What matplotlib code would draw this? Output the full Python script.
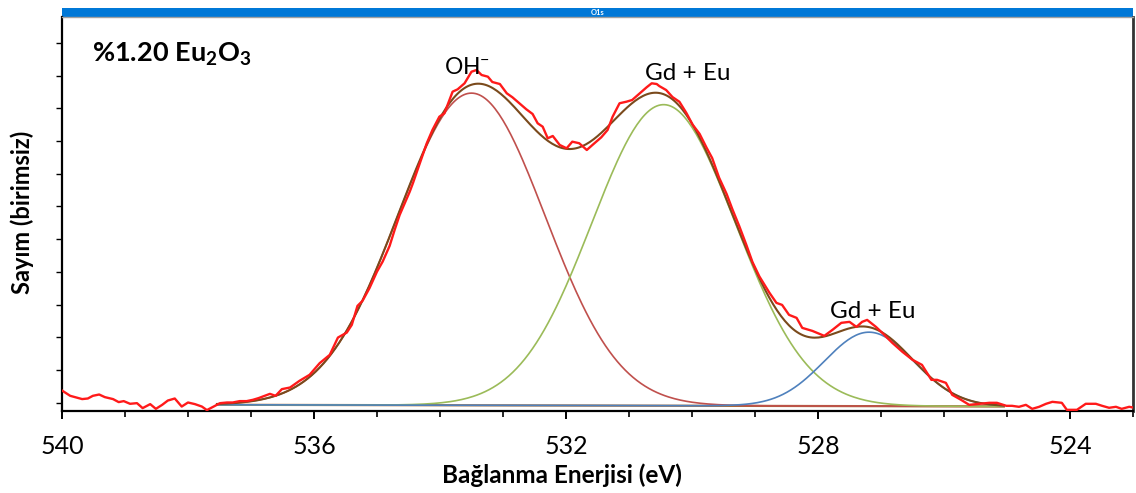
import matplotlib
matplotlib.use("Agg")
import matplotlib.pyplot as plt
from matplotlib.ticker import MultipleLocator, NullFormatter
from matplotlib.patches import Rectangle
import numpy as np

plt.rcParams["font.family"] = ["Lato", "DejaVu Sans"]
plt.rcParams["mathtext.default"] = "regular"

# ── O1s spectrum (binding energy, counts) ────────────────────────────────────
energy = [
    540.00, 539.87, 539.68, 539.59, 539.51, 539.41, 539.32, 539.19, 539.10, 539.02,
    538.92, 538.81, 538.72, 538.60, 538.51, 538.41, 538.32, 538.21, 538.10, 538.00,
    537.89, 537.78, 537.70, 537.61, 537.49, 537.38, 537.29, 537.18, 537.07, 536.97,
    536.88, 536.70, 536.61, 536.51, 536.38, 536.23, 536.07, 535.91, 535.75, 535.62,
    535.48, 535.40, 535.31, 535.23, 535.12, 535.00, 534.91, 534.80, 534.72, 534.64,
    534.56, 534.48, 534.43, 534.32, 534.21, 534.12, 534.01, 533.93, 533.85, 533.80,
    533.72, 533.61, 533.50, 533.42, 533.34, 533.24, 533.17, 533.05, 532.94, 532.85,
    532.74, 532.63, 532.53, 532.45, 532.37, 532.29, 532.21, 532.10, 531.99, 531.90,
    531.79, 531.67, 531.58, 531.44, 531.34, 531.26, 531.15, 531.04, 530.95, 530.83,
    530.72, 530.64, 530.56, 530.52, 530.41, 530.31, 530.20, 530.09, 529.99, 529.88,
    529.77, 529.68, 529.57, 529.45, 529.36, 529.25, 529.14, 529.04, 528.93, 528.77,
    528.66, 528.57, 528.46, 528.34, 528.25, 528.09, 527.90, 527.77, 527.63, 527.50,
    527.39, 527.30, 527.22, 527.08, 526.98, 526.82, 526.66, 526.50, 526.35, 526.20,
    526.11, 525.97, 525.87, 525.73, 525.60, 525.44, 525.28, 525.16, 525.01, 524.92,
    524.81, 524.70, 524.60, 524.49, 524.38, 524.28, 524.13, 524.05, 523.89, 523.75,
    523.59, 523.49, 523.38, 523.27, 523.18, 523.06, 522.98,
]
counts = [
    188, 107, 57, 66, 107, 127, 87, 57, 11, 26,
    -15, -5, -81, -20, -92, -31, 35, 66, -57, 5,
    -20, -57, -111, -66, -5, 5, 5, 26, 26, 46,
    72, 137, 107, 209, 234, 336, 428, 606, 733, 997,
    1073, 1191, 1481, 1558, 1751, 2005, 2158, 2397, 2642, 2871,
    3049, 3227, 3355, 3660, 3966, 4169, 4372, 4424, 4627, 4754,
    4790, 4882, 5059, 5085, 5009, 4983, 4902, 4871, 4729, 4668,
    4577, 4485, 4413, 4271, 4219, 4042, 4077, 3940, 3889, 3990,
    3966, 3863, 3940, 4057, 4169, 4372, 4577, 4601, 4627, 4729,
    4821, 4882, 4871, 4840, 4779, 4672, 4600, 4430, 4250, 4110,
    3900, 3740, 3440, 3190, 2960, 2700, 2420, 2150, 1930, 1680,
    1527, 1496, 1344, 1298, 1145, 1099, 1023, 1115, 1222, 1237,
    1160, 1237, 1267, 1160, 1069, 916, 779, 657, 580, 351,
    351, 305, 122, 46, -31, -15, 0, 0, -46, -46,
    -61, -31, -92, -61, -15, 15, 0, -107, -107, -15,
    -15, -46, -76, -61, -92, -61, -76,
]

# fitted components: centre (eV), height (counts), gaussian sigma (eV)
peak_centres = [533.50, 530.45, 527.19]
peak_heights = [4770, 4600, 1130]
peak_sigmas = [1.17, 1.14, 0.71]
peak_colors = ["#C0504D", "#9BBB59", "#4F81BD"]

# background end points
bg_energy = [537.54, 525.05]
bg_counts = [-30, -55]

RAW = "#FF1A1A"
ENVELOPE = "#7A4A1C"
BACKGROUND = "#A8672E"

fit_e = np.linspace(bg_energy[0], bg_energy[1], 400)
bg = np.interp(fit_e, bg_energy[::-1], bg_counts[::-1])

fig = plt.figure(figsize=(11.36, 4.93), dpi=100)
ax = fig.add_axes([62 / 1136, 82 / 493, 1071 / 1136, 394 / 493])

ax.plot(fit_e, bg, color=BACKGROUND, lw=1.6, zorder=2)
envelope = bg.copy()
for c, h, s, col in zip(peak_centres, peak_heights, peak_sigmas, peak_colors):
    comp = h * np.exp(-(fit_e - c) ** 2 / (2 * s ** 2))
    envelope += comp
    ax.plot(fit_e, bg + comp, color=col, lw=1.2, zorder=3)
ax.plot(fit_e, envelope, color=ENVELOPE, lw=1.5, zorder=4)
ax.plot(energy, counts, color=RAW, lw=1.7, zorder=5)

ax.set_xlim(540, 523)
ax.set_ylim(-125, 5895)

ax.xaxis.set_major_locator(MultipleLocator(4))
ax.xaxis.set_minor_locator(MultipleLocator(1))
ax.yaxis.set_major_locator(MultipleLocator(1000))
ax.yaxis.set_minor_locator(MultipleLocator(500))
ax.yaxis.set_major_formatter(NullFormatter())
ax.tick_params(axis="x", which="major", length=6, width=1.4, labelsize=18, pad=11)
ax.tick_params(axis="x", which="minor", length=4, width=1.2)
ax.tick_params(axis="y", which="both", length=4, width=1.0)

for side in ("left", "bottom"):
    ax.spines[side].set_linewidth(1.6)
ax.spines["right"].set_linewidth(2.0)
ax.spines["right"].set_color("#333333")
ax.spines["top"].set_linewidth(1.0)
ax.spines["top"].set_color("#A0A0A0")

# title strip above the plot
ax.add_patch(Rectangle((0, 1.0), 1, 9.5 / 394, transform=ax.transAxes,
                       facecolor="#0078D7", edgecolor="none", clip_on=False))
ax.text(0.5, 1.0 + 4.8 / 394, "O1s", transform=ax.transAxes, ha="center",
        va="center", color="white", fontsize=5.5, fontweight="bold")

ax.text(30 / 1071, 0.905, r"%1.20 Eu$_2$O$_3$", transform=ax.transAxes,
        fontsize=19.5, fontweight="bold", va="center", ha="left")
fig.text(467 / 1136, 1 - 68 / 493, r"OH$^{-}$", fontsize=16.5,
         ha="center", va="center")
fig.text(688 / 1136, 1 - 73 / 493, "Gd + Eu", fontsize=17.5,
         ha="center", va="center")
fig.text(873 / 1136, 1 - 311 / 493, "Gd + Eu", fontsize=17.5,
         ha="center", va="center")

fig.text(562 / 1136, 1 - 475 / 493, "Bağlanma Enerjisi (eV)", fontsize=17.5,
         fontweight="bold", ha="center", va="center")
fig.text(22 / 1136, 1 - 212 / 493, "Sayım (birimsiz)", fontsize=17,
         fontweight="bold", ha="center", va="center", rotation=90)

fig.savefig("out.png", dpi=100)
